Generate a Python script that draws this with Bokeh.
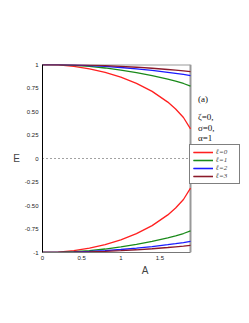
from bokeh.plotting import figure
from bokeh.models import Legend, LegendItem, Label, FixedTicker
from bokeh.embed import file_html
from bokeh.resources import INLINE

A = [0.0, 0.2, 0.4, 0.6, 0.8, 1.0, 1.2, 1.4, 1.6, 1.7, 1.8, 1.89]
E_l0 = [1.0, 0.995, 0.980, 0.954, 0.917, 0.866, 0.800, 0.714, 0.600, 0.527, 0.436, 0.315]
E_l1 = [1.0, 0.998, 0.991, 0.979, 0.963, 0.941, 0.914, 0.882, 0.844, 0.822, 0.798, 0.770]
E_l2 = [1.0, 0.999, 0.995, 0.989, 0.980, 0.968, 0.954, 0.937, 0.917, 0.906, 0.894, 0.882]
E_l3 = [1.0, 0.999, 0.997, 0.993, 0.987, 0.980, 0.971, 0.960, 0.947, 0.940, 0.933, 0.925]
E_l0_low = [-1.0, -0.995, -0.980, -0.954, -0.917, -0.866, -0.800, -0.714, -0.600, -0.527, -0.436, -0.315]
E_l1_low = [-1.0, -0.998, -0.991, -0.979, -0.963, -0.941, -0.914, -0.882, -0.844, -0.822, -0.798, -0.770]
E_l2_low = [-1.0, -0.999, -0.995, -0.989, -0.980, -0.968, -0.954, -0.937, -0.917, -0.906, -0.894, -0.882]
E_l3_low = [-1.0, -0.999, -0.997, -0.993, -0.987, -0.980, -0.971, -0.960, -0.947, -0.940, -0.933, -0.925]

series_labels = ["ℓ=0", "ℓ=1", "ℓ=2", "ℓ=3"]
colors = ["#ff2020", "#1a8a1a", "#1a1aff", "#8b1a2a"]

y_ticks = [-1, -0.75, -0.5, -0.25, 0, 0.25, 0.5, 0.75, 1]
y_tick_labels = ["-1", "-0.75", "-0.50", "-0.25", "0", "0.25", "0.50", "0.75", "1"]
x_ticks = [0, 0.5, 1, 1.5]
x_tick_labels = ["0", "0.5", "1", "1.5"]

notes = ["(a)", "ζ=0,", "σ=0,", "α=1"]
note_y = [0.63, 0.437, 0.325, 0.218]

X_MIN, X_MAX = 0.0, 1.89
Y_MIN, Y_MAX = -1.0, 1.0
PX_PER_UNIT = 148 / (X_MAX - X_MIN)
FRAME_W = 205
X_VIEW_END = FRAME_W / PX_PER_UNIT

p = figure(width=249, height=315, output_backend="svg", toolbar_location=None,
           x_range=(X_MIN, X_VIEW_END), y_range=(Y_MIN, Y_MAX),
           min_border_left=42, min_border_right=2, min_border_top=64, min_border_bottom=63)

p.xgrid.visible = False
p.ygrid.visible = False
p.outline_line_color = None

p.yaxis.ticker = FixedTicker(ticks=y_ticks)
p.yaxis.major_label_overrides = {t: l for t, l in zip(y_ticks, y_tick_labels)}
p.xaxis.ticker = FixedTicker(ticks=x_ticks)
p.xaxis.major_label_overrides = {t: l for t, l in zip(x_ticks, x_tick_labels)}
p.xaxis.bounds = (X_MIN, X_MAX)
for ax in (p.xaxis[0], p.yaxis[0]):
    ax.major_tick_out = 0
    ax.major_tick_in = 0
    ax.minor_tick_out = 0
    ax.minor_tick_in = 0
    ax.major_label_text_font = "Liberation Sans"
    ax.major_label_text_font_size = "6px"
    ax.major_label_text_color = "#222222"
    ax.axis_label_text_font = "Liberation Sans"
    ax.axis_label_text_font_size = "10px"
    ax.axis_label_text_font_style = "normal"
    ax.major_label_standoff = 3
p.yaxis.axis_line_color = "black"
p.xaxis.axis_line_color = "#777777"
p.xaxis.axis_label = "A"
p.yaxis.axis_label = "E"
p.yaxis.axis_label_orientation = "horizontal"
p.xaxis.axis_label_standoff = 2
p.yaxis.axis_label_standoff = 2
p.yaxis.major_label_orientation = "horizontal"
p.yaxis.major_label_standoff = 4

# plot box: top and right edges (grey), zero line (dotted)
p.segment(x0=[X_MIN, X_MAX], y0=[Y_MAX, Y_MIN], x1=[X_MAX, X_MAX], y1=[Y_MAX, Y_MAX],
          line_color="#999999", line_width=2)
p.line([X_MIN, X_MAX], [0, 0], line_color="#444444", line_dash="1 3", line_width=1.2)

items = []
uppers = [E_l0, E_l1, E_l2, E_l3]
lowers = [E_l0_low, E_l1_low, E_l2_low, E_l3_low]
for lab, c, up, lo in zip(series_labels, colors, uppers, lowers):
    r1 = p.line(A, up, line_color=c, line_width=1.3)
    r2 = p.line(A, lo, line_color=c, line_width=1.3)
    items.append(LegendItem(label=lab, renderers=[r1, r2]))

legend = Legend(items=items, location=(147, 68), orientation="vertical",
                border_line_color="black", border_line_width=1,
                background_fill_color="white", background_fill_alpha=1,
                label_text_font="Liberation Serif", label_text_font_style="italic",
                label_text_font_size="7px", glyph_width=20, glyph_height=8,
                label_height=8, label_standoff=3, spacing=0, padding=3, margin=0)
p.add_layout(legend, "center")

for t, yy in zip(notes, note_y):
    p.add_layout(Label(x=1.985, y=yy, text=t, text_font="Liberation Serif",
                       text_font_size="9px", text_baseline="middle", text_color="#111111"))

open("out.html", "w").write(file_html(p, INLINE))
